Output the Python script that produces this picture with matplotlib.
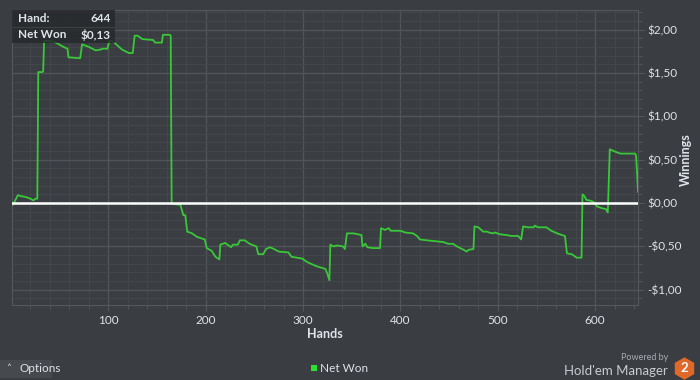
import matplotlib.pyplot as plt
from matplotlib.patches import Rectangle
from matplotlib.ticker import MultipleLocator, FuncFormatter

# cumulative net won at the points where it changes direction
hands = [1, 2, 7, 10, 15, 20, 23, 25, 27, 28, 32, 33, 34, 40, 46, 54, 58, 59, 71, 73,
         80, 87, 92, 94, 99, 101, 105, 109, 114, 121, 125, 127, 130, 135, 146, 148, 155,
         156, 163, 164, 165, 174, 177, 179, 181, 186, 191, 199, 201, 206, 210, 214, 215,
         220, 226, 228, 233, 235, 240, 245, 252, 254, 259, 262, 266, 270, 275, 285, 288,
         299, 304, 314, 323, 325, 327, 328, 331, 335, 341, 343, 345, 352, 360, 361, 364,
         366, 372, 379, 380, 384, 388, 390, 400, 405, 413, 417, 420, 427, 444, 449, 454,
         458, 465, 468, 470, 475, 476, 480, 485, 489, 491, 495, 497, 502, 509, 514, 521,
         524, 526, 531, 537, 538, 541, 550, 555, 561, 566, 569, 571, 576, 581, 586, 587,
         589, 591, 594, 598, 602, 607, 611, 613, 615, 617, 621, 626, 641, 642, 643, 644]
net_won = [0.0, -0.02, 0.09, 0.08, 0.07, 0.05, 0.03, 0.05, 0.05, 1.51, 1.51, 1.52, 1.87,
           1.87, 1.85, 1.80, 1.78, 1.68, 1.67, 1.83, 1.80, 1.76, 1.77, 1.78, 1.78, 1.87,
           1.86, 1.82, 1.77, 1.73, 1.73, 1.93, 1.93, 1.89, 1.88, 1.85, 1.85, 1.94, 1.94,
           1.93, -0.01, -0.02, -0.14, -0.14, -0.33, -0.35, -0.39, -0.42, -0.52, -0.55,
           -0.62, -0.65, -0.48, -0.46, -0.51, -0.48, -0.48, -0.43, -0.43, -0.47, -0.50,
           -0.59, -0.59, -0.53, -0.51, -0.53, -0.56, -0.57, -0.62, -0.64, -0.68, -0.73,
           -0.76, -0.82, -0.89, -0.48, -0.50, -0.49, -0.50, -0.53, -0.35, -0.35, -0.37,
           -0.50, -0.47, -0.51, -0.52, -0.52, -0.29, -0.31, -0.29, -0.32, -0.32, -0.34,
           -0.35, -0.38, -0.42, -0.43, -0.45, -0.47, -0.47, -0.50, -0.54, -0.56, -0.54,
           -0.53, -0.27, -0.28, -0.33, -0.33, -0.34, -0.35, -0.34, -0.36, -0.37, -0.38,
           -0.38, -0.42, -0.27, -0.28, -0.28, -0.26, -0.28, -0.28, -0.32, -0.35, -0.37,
           -0.38, -0.58, -0.59, -0.63, -0.63, 0.10, 0.08, 0.035, 0.03, 0.015, -0.04, -0.06,
           -0.07, -0.11, 0.62, 0.61, 0.59, 0.57, 0.57, 0.55, 0.36, 0.13]

x_ticks = [100, 200, 300, 400, 500, 600]
last_hand = "644"
last_won = "$0,13"

bg = '#3a3d42'
txt = '#dfe4ea'
plt.rcParams['font.family'] = ['Lato', 'DejaVu Sans']

fig = plt.figure(figsize=(7, 3.8), dpi=100, facecolor=bg)
ax = fig.add_axes([12 / 700, 1 - 305 / 380, 626 / 700, 295 / 380])
ax.set_facecolor(bg)

ax.plot(hands, net_won, color='#38c838', lw=1.3, zorder=3)
ax.axhline(0, color='white', lw=1.8, zorder=4)

ax.set_xlim(1, 644)
ax.set_ylim(-1.176, 2.226)
ax.set_xticks(x_ticks)
ax.xaxis.set_minor_locator(MultipleLocator(20))
ax.yaxis.set_major_locator(MultipleLocator(0.5))
ax.yaxis.set_minor_locator(MultipleLocator(0.1))


def money(v, pos):
    s = '${:.2f}'.format(abs(v)).replace('.', ',')
    return '-' + s if v < -1e-9 else s


ax.yaxis.set_major_formatter(FuncFormatter(money))
ax.yaxis.tick_right()

ax.grid(True, which='major', color='#515459', lw=1.0, zorder=0)
ax.grid(True, which='minor', color='#43464b', lw=0.8, zorder=0)
for s in ax.spines.values():
    s.set_color('#55585d')

ax.tick_params(which='both', colors='#55585d', labelcolor=txt, labelsize=8.5)
ax.tick_params(which='major', length=4)
ax.tick_params(which='minor', length=3)
ax.tick_params(axis='y', pad=3)

ax.set_xlabel('Hands', color=txt, fontsize=9, fontweight='bold', labelpad=1)
fig.text(686 / 700, 1 - 160 / 380, 'Winnings', color=txt, fontsize=9, fontweight='bold',
         rotation=90, va='center', ha='center')

# tooltip box in the top left
fig.patches.append(Rectangle((12 / 700, 1 - 43 / 380), 103 / 700, 33 / 380,
                             transform=fig.transFigure, facecolor='#27292c',
                             alpha=0.85, edgecolor='none', zorder=5))
fig.lines.append(plt.Line2D([12 / 700, 115 / 700], [1 - 26.5 / 380] * 2,
                            transform=fig.transFigure, color='#3c3f44', lw=0.8, zorder=6))
fig.text(18 / 700, 1 - 18 / 380, 'Hand:', color=txt, fontsize=8.5, fontweight='bold', va='center', zorder=7)
fig.text(111 / 700, 1 - 18 / 380, last_hand, color=txt, fontsize=8.5, fontweight='bold', va='center', ha='right', zorder=7)
fig.text(18 / 700, 1 - 35 / 380, 'Net Won', color=txt, fontsize=8.5, fontweight='bold', va='center', zorder=7)
fig.text(111 / 700, 1 - 35 / 380, last_won, color=txt, fontsize=8.5, fontweight='bold', va='center', ha='right', zorder=7)

# bottom bar: options button, legend, logo
fig.patches.append(Rectangle((0, 1 - 378 / 380), 52 / 700, 18 / 380,
                             transform=fig.transFigure, facecolor='#46494e', edgecolor='none'))
fig.text(6 / 700, 1 - 369 / 380, '\u02c4', color=txt, fontsize=7, va='center',
         family=['DejaVu Sans'])
fig.text(19 / 700, 1 - 369 / 380, 'Options', color=txt, fontsize=8.5, va='center')

fig.patches.append(Rectangle((311 / 700, 1 - 371 / 380), 6 / 700, 6 / 380,
                             transform=fig.transFigure, facecolor='#2ee02e', edgecolor='none'))
fig.text(320 / 700, 1 - 368 / 380, 'Net Won', color=txt, fontsize=8.5, va='center')

fig.text(668 / 700, 1 - 358 / 380, 'Powered by', color='#a8acb2', fontsize=6.5, va='center', ha='right')
fig.text(668 / 700, 1 - 371 / 380, "Hold'em Manager", color='#c8ccd2', fontsize=9.5, va='center', ha='right')
fig.lines.append(plt.Line2D([684 / 700], [1 - 368 / 380], transform=fig.transFigure,
                            marker='h', markersize=15, color='#e0692a', linestyle='none'))
fig.text(684 / 700, 1 - 368 / 380, '2', color='white', fontsize=9.5, fontweight='bold',
         va='center', ha='center')

fig.savefig('out.png', dpi=100, facecolor=bg)
